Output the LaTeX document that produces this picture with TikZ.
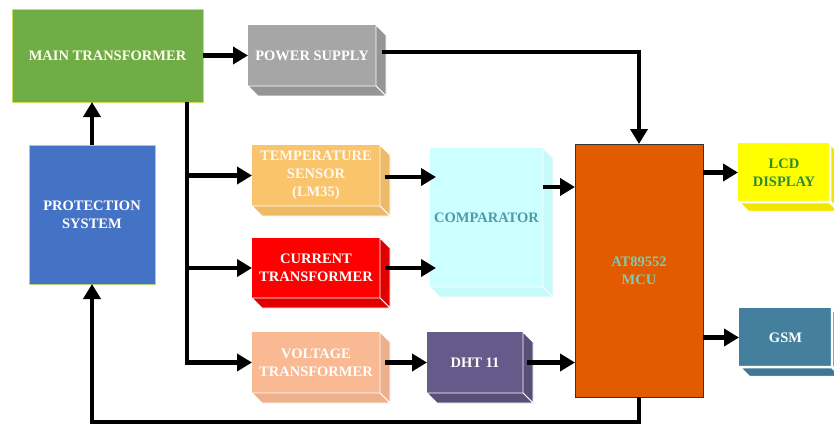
\documentclass[tikz,border=0pt]{standalone}
\usepackage{fontspec}
\setmainfont{Liberation Serif}
\usetikzlibrary{arrows.meta,calc}
\definecolor{mtgreen}{HTML}{70AD47}
\definecolor{mtborder}{HTML}{CDDC5A}
\definecolor{psgrey}{HTML}{A6A6A6}
\definecolor{protblue}{HTML}{4472C4}
\definecolor{protborder}{HTML}{B9D27A}
\definecolor{tempor}{HTML}{F9C46C}
\definecolor{currred}{HTML}{FF0000}
\definecolor{voltsal}{HTML}{F8B993}
\definecolor{compcyan}{HTML}{CCFFFF}
\definecolor{compside}{HTML}{C6F9F9}
\definecolor{comptext}{HTML}{4E9AA8}
\definecolor{dhtpurple}{HTML}{655A8A}
\definecolor{mcuorange}{HTML}{E35B00}
\definecolor{mcutext}{HTML}{80CBAF}
\definecolor{lcdyellow}{HTML}{FFFF00}
\definecolor{lcdside}{HTML}{F2E600}
\definecolor{lcdtext}{HTML}{2E8B34}
\definecolor{gsmblue}{HTML}{44809E}
\definecolor{gsmside}{HTML}{3E7896}
\newcommand\extrude[3]{%
  \filldraw[fill=#2, draw=white, line width=#3, line join=round]
    (#1.north east) -- ++(10,10) -- ($(#1.south east)+(10,10)$) -- (#1.south east) -- cycle;
  \filldraw[fill=#2, draw=white, line width=#3, line join=round]
    (#1.south west) -- ++(10,10) -- ($(#1.south east)+(10,10)$) -- (#1.south east) -- cycle;}
\begin{document}
\begin{tikzpicture}[x=1pt,y=-1pt,
  box/.style={inner sep=0pt, outer sep=0pt, align=center,
    font=\bfseries\fontsize{14.5}{18}\selectfont},
  flatbox/.style={box, draw, line width=0.8pt},
  arr/.style={line width=4.6pt, -{Triangle[length=15pt,width=17pt]}},
  plain/.style={line width=4.6pt}]
\useasboundingbox (0,0) rectangle (834,425);
\fill[white] (0,0) rectangle (834,425);

% flat boxes
\node[flatbox, fill=mtgreen, draw=mtborder, text=white!92!yellow,
  minimum width=191pt, minimum height=93pt] (mt) at (107.5,55.5) {MAIN TRANSFORMER};
\node[flatbox, fill=protblue, draw=protborder, text=white,
  minimum width=126pt, minimum height=139pt] (prot) at (92,214.5) {PROTECTION\\SYSTEM};
\node[flatbox, fill=mcuorange, draw=black!80, text=mcutext,
  minimum width=128pt, minimum height=253pt] (mcu) at (639,270.5) {AT89552\\MCU};

% 3D boxes
\node[box, fill=psgrey, text=white, minimum width=128pt, minimum height=61pt] (ps) at (312,55.5) {POWER SUPPLY};
\extrude{ps}{psgrey!90!black}{0.8pt}
\node[box, fill=tempor, text=white!95!orange, minimum width=128pt, minimum height=61pt] (temp) at (316,175.5) {TEMPERATURE\\SENSOR\\(LM35)};
\extrude{temp}{tempor!95!black}{0.8pt}
\node[box, fill=currred, text=white, minimum width=128pt, minimum height=60pt] (curr) at (316,268) {CURRENT\\TRANSFORMER};
\extrude{curr}{currred!88!black}{0.8pt}
\node[box, fill=voltsal, text=white, minimum width=128pt, minimum height=61pt] (volt) at (316,362.5) {VOLTAGE\\TRANSFORMER};
\extrude{volt}{voltsal!95!black}{0.8pt}
\node[box, fill=compcyan, text=comptext, minimum width=113pt, minimum height=139pt] (comp) at (486.5,217.5) {COMPARATOR};
\extrude{comp}{compside}{0.8pt}
\node[box, fill=dhtpurple, text=white, minimum width=96pt, minimum height=61pt] (dht) at (475,362.5) {DHT 11};
\extrude{dht}{dhtpurple!88!black}{0.8pt}
\node[box, fill=lcdyellow, text=lcdtext, minimum width=92pt, minimum height=59pt] (lcd) at (784,172.5) {LCD\\DISPLAY};
\extrude{lcd}{lcdside}{2.5pt}
\node[box, fill=gsmblue, text=white, minimum width=93pt, minimum height=59pt] (gsm) at (785.5,337.5) {GSM};
\extrude{gsm}{gsmside}{2.5pt}

% connectors
\draw[arr] (mt.east) -- (ps.west);
\draw[arr] (prot.north) -- (prot.north |- mt.south);
\coordinate (trunk) at (187,102);
\draw[plain] (trunk) -- (trunk |- volt.west);
\draw[arr] (trunk |- temp.west) -- (temp.west);
\draw[arr] (trunk |- curr.west) -- (curr.west);
\draw[arr] ([xshift=-2.3pt]trunk |- volt.west) -- (volt.west);
\draw[arr] ([xshift=6pt,yshift=3.5pt]ps.east) -| (mcu.north);
\draw[arr] ([xshift=5pt,yshift=-1.5pt]temp.east) -- ([xshift=6pt,yshift=-1.5pt]comp.west |- temp.east);
\draw[arr] ([xshift=5pt]curr.east) -- ([xshift=6pt]comp.west |- curr.east);
\draw[arr] ([xshift=5pt]volt.east) -- (dht.west);
\draw[arr] ([xshift=4pt]dht.east) -- (mcu.west |- dht.east);
\coordinate (cout) at ([yshift=30.5pt]comp.east);
\draw[arr] (cout) -- (mcu.west |- cout);
\draw[arr] (mcu.east |- lcd.west) -- (lcd.west);
\draw[arr] (mcu.east |- gsm.west) -- (gsm.west);
\coordinate (loop) at (639,422);
\draw[arr] (mcu.south) -- (loop) -| (prot.south);
\end{tikzpicture}
\end{document}
